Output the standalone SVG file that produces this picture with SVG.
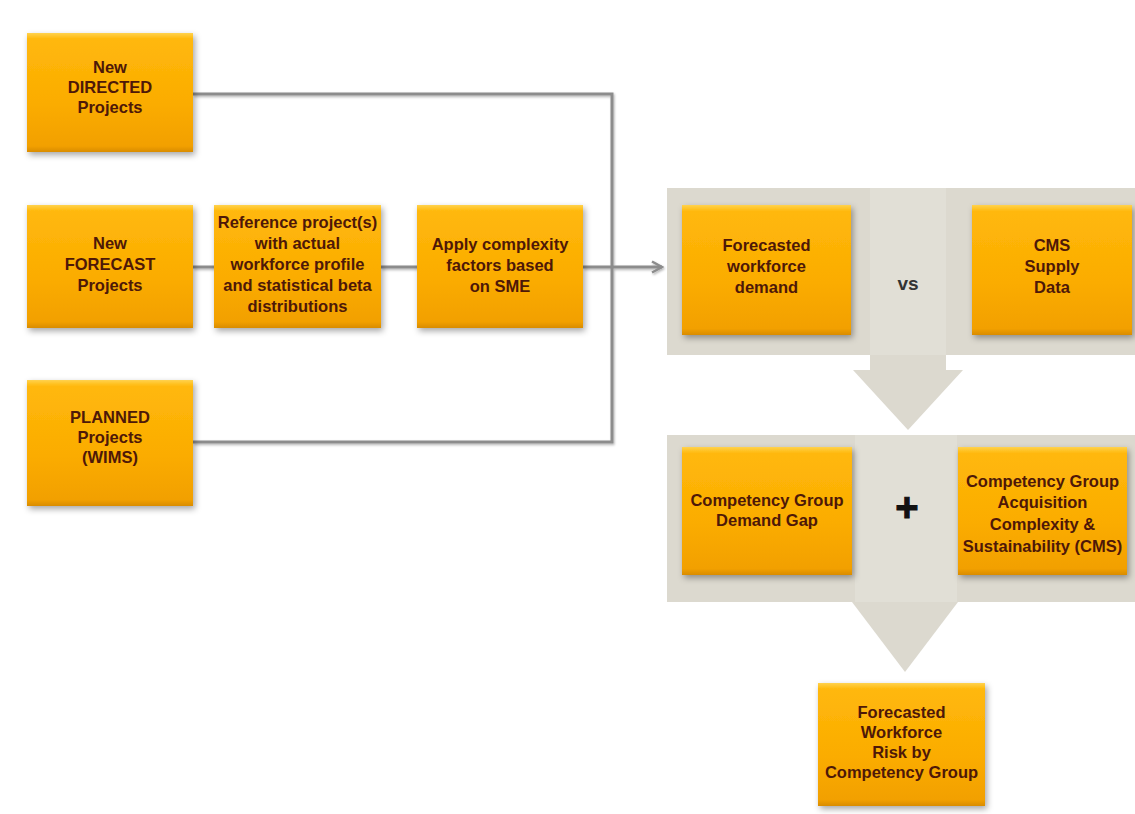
<svg xmlns="http://www.w3.org/2000/svg" width="1135" height="814" viewBox="0 0 1135 814">
  <defs>
    <linearGradient id="orange" x1="0" y1="0" x2="0" y2="1">
      <stop offset="0" stop-color="#FFD24D"/>
      <stop offset="0.05" stop-color="#FFB80A"/>
      <stop offset="0.6" stop-color="#FBAC02"/>
      <stop offset="0.95" stop-color="#F2A000"/>
      <stop offset="1" stop-color="#D98C00"/>
    </linearGradient>
    <filter id="shadow" x="-10%" y="-10%" width="125%" height="130%">
      <feDropShadow dx="2" dy="3" stdDeviation="3" flood-color="#000" flood-opacity="0.35"/>
    </filter>
    <filter id="lineShadow" filterUnits="userSpaceOnUse" x="150" y="60" width="560" height="420">
      <feDropShadow dx="1" dy="1.5" stdDeviation="1" flood-color="#000" flood-opacity="0.3"/>
    </filter>
    <marker id="arrow" viewBox="0 0 14 14" refX="12" refY="7" markerWidth="14" markerHeight="14" markerUnits="userSpaceOnUse" orient="auto">
      <path d="M2,1.5 L12,7 L2,12.5" fill="none" stroke="#8C8C8C" stroke-width="2.5" stroke-linejoin="miter"/>
    </marker>
  </defs>
  <style>
    .box { fill: url(#orange); filter: url(#shadow); }
    .lbl { font-family: "Liberation Sans", Arial, sans-serif; font-weight: bold; font-size: 16.5px; fill: #4E1808; text-anchor: middle; }
    .panel { fill: #DCD9CF; }
    .shaft { fill: #E1DFD6; }
    .conn { fill: none; stroke: #8C8C8C; stroke-width: 3; }
    .op { font-family: "Liberation Sans", Arial, sans-serif; font-weight: bold; text-anchor: middle; }
  </style>

  <rect width="1135" height="814" fill="#FFFFFF"/>

  <!-- grey background panels and block arrows -->
  <g id="panels">
    <rect class="panel" x="667" y="188" width="468" height="167"/>
    <rect class="shaft" x="870" y="188" width="76" height="167"/>
    <path class="panel" d="M870,355 H946 V370 H963 L908,430 L853,370 H870 Z"/>
    <rect class="panel" x="667" y="435" width="468" height="167"/>
    <rect class="shaft" x="855" y="435" width="102" height="167"/>
    <path class="panel" d="M852,602 H958 L905,672 Z"/>
  </g>

  <!-- connectors -->
  <g id="connectors" filter="url(#lineShadow)">
    <polyline class="conn" points="193,94 612,94 612,442 193,442"/>
    <line class="conn" x1="193" y1="267" x2="214" y2="267"/>
    <line class="conn" x1="381" y1="267" x2="417" y2="267"/>
    <line class="conn" x1="583" y1="267" x2="662" y2="267" marker-end="url(#arrow)"/>
  </g>

  <g id="new-directed">
    <rect class="box" x="27" y="33" width="166" height="119"/>
    <text class="lbl" x="110" y="73">New</text>
    <text class="lbl" x="110" y="93">DIRECTED</text>
    <text class="lbl" x="110" y="113">Projects</text>
  </g>

  <g id="new-forecast">
    <rect class="box" x="27" y="205" width="166" height="123"/>
    <text class="lbl" x="110" y="249">New</text>
    <text class="lbl" x="110" y="270">FORECAST</text>
    <text class="lbl" x="110" y="291">Projects</text>
  </g>

  <g id="reference-projects">
    <rect class="box" x="214" y="205" width="167" height="123"/>
    <text class="lbl" x="297.5" y="228">Reference project(s)</text>
    <text class="lbl" x="297.5" y="249">with actual</text>
    <text class="lbl" x="297.5" y="270">workforce profile</text>
    <text class="lbl" x="297.5" y="291">and statistical beta</text>
    <text class="lbl" x="297.5" y="312">distributions</text>
  </g>

  <g id="apply-complexity">
    <rect class="box" x="417" y="205" width="166" height="123"/>
    <text class="lbl" x="500" y="250">Apply complexity</text>
    <text class="lbl" x="500" y="271">factors based</text>
    <text class="lbl" x="500" y="292">on SME</text>
  </g>

  <g id="planned-projects">
    <rect class="box" x="27" y="380" width="166" height="126"/>
    <text class="lbl" x="110" y="423">PLANNED</text>
    <text class="lbl" x="110" y="443">Projects</text>
    <text class="lbl" x="110" y="463">(WIMS)</text>
  </g>

  <g id="forecasted-demand">
    <rect class="box" x="682" y="205" width="169" height="130"/>
    <text class="lbl" x="766.5" y="251">Forecasted</text>
    <text class="lbl" x="766.5" y="272">workforce</text>
    <text class="lbl" x="766.5" y="293">demand</text>
  </g>

  <g id="vs">
    <text class="op" x="908" y="290" font-size="19" fill="#333333">vs</text>
  </g>

  <g id="cms-supply">
    <rect class="box" x="972" y="205" width="160" height="130"/>
    <text class="lbl" x="1052" y="251">CMS</text>
    <text class="lbl" x="1052" y="272">Supply</text>
    <text class="lbl" x="1052" y="293">Data</text>
  </g>

  <g id="demand-gap">
    <rect class="box" x="682" y="447" width="170" height="128"/>
    <text class="lbl" x="767" y="506">Competency Group</text>
    <text class="lbl" x="767" y="526">Demand Gap</text>
  </g>

  <g id="plus">
    <text class="op" x="907" y="521" font-size="40" fill="#111111" stroke="#111111" stroke-width="1">+</text>
  </g>

  <g id="acquisition-complexity">
    <rect class="box" x="958" y="447" width="169" height="128"/>
    <text class="lbl" x="1042.5" y="487">Competency Group</text>
    <text class="lbl" x="1042.5" y="508">Acquisition</text>
    <text class="lbl" x="1042.5" y="530">Complexity &amp;</text>
    <text class="lbl" x="1042.5" y="552">Sustainability (CMS)</text>
  </g>

  <g id="workforce-risk">
    <rect class="box" x="818" y="683" width="167" height="123"/>
    <text class="lbl" x="901.5" y="718">Forecasted</text>
    <text class="lbl" x="901.5" y="738">Workforce</text>
    <text class="lbl" x="901.5" y="758">Risk by</text>
    <text class="lbl" x="901.5" y="778">Competency Group</text>
  </g>
</svg>
